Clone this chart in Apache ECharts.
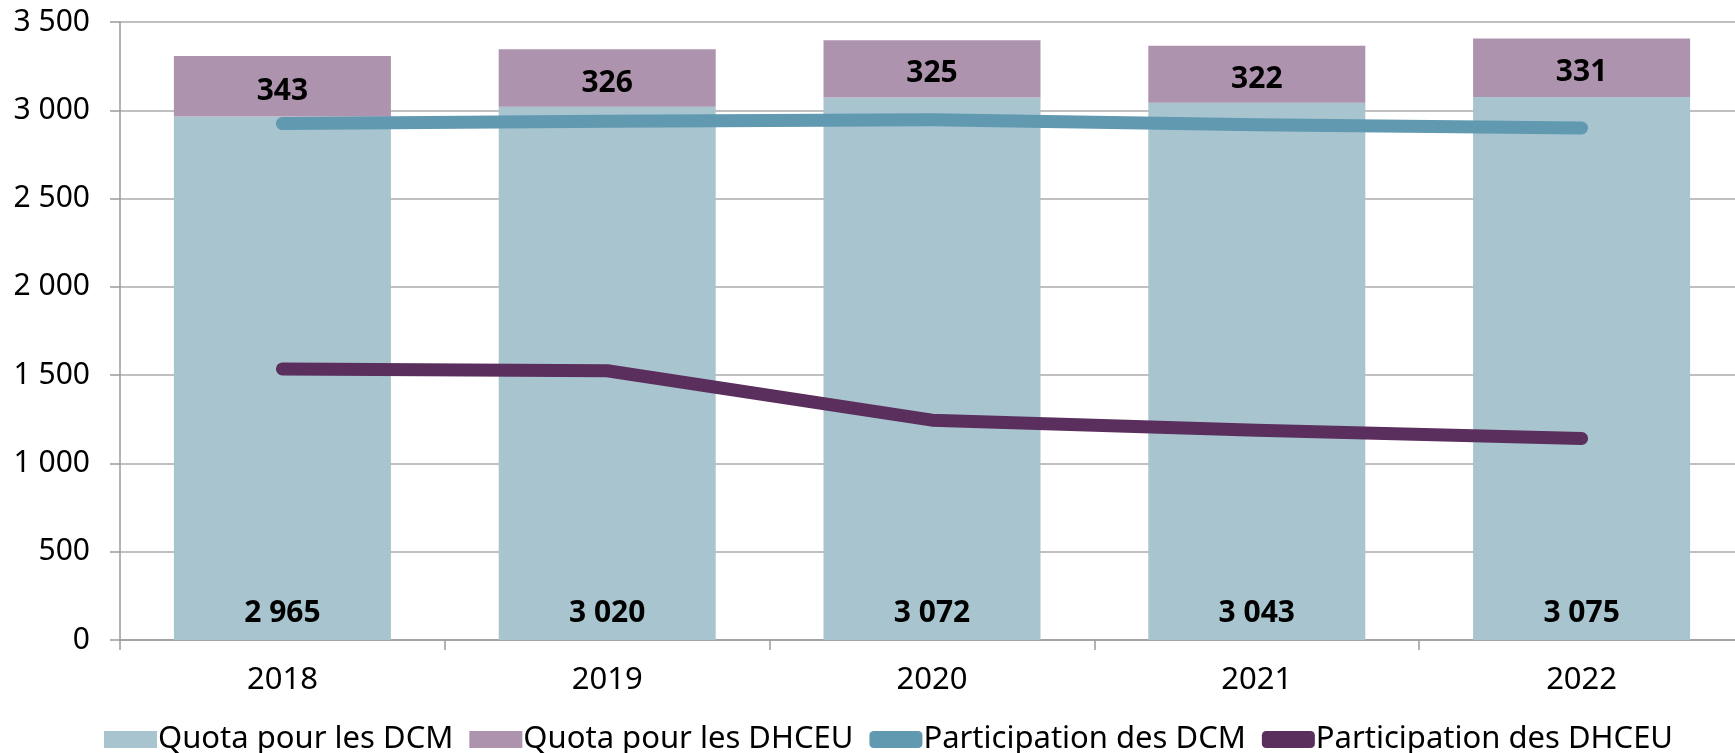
<!DOCTYPE html>
<html>
<head>
<meta charset="utf-8">
<script src="https://cdn.jsdelivr.net/npm/echarts@6/dist/echarts.min.js"></script>
<style>
html,body{margin:0;padding:0;background:#fff;overflow:hidden;width:1735px;height:753px;}
#chart{width:1744px;height:753px;}
</style>
</head>
<body>
<div id="chart"></div>
<script>
const categories = ['2018', '2019', '2020', '2021', '2022'];
const quotaDCM = [2965, 3020, 3072, 3043, 3075];
const quotaDHCEU = [343, 326, 325, 322, 331];
const participationDCM = [2925, 2938, 2946, 2918, 2900];
const participationDHCEU = [1535, 1525, 1245, 1188, 1141];
const seriesNames = ['Quota pour les DCM', 'Quota pour les DHCEU', 'Participation des DCM', 'Participation des DHCEU'];

const FONT = '"Noto Sans", sans-serif';
const fmt = v => {
  const s = String(Math.round(v));
  return s.replace(/\B(?=(\d{3})+(?!\d))/g, ' ');
};

const chart = echarts.init(document.getElementById('chart'));
chart.setOption({
  animation: false,
  textStyle: { fontFamily: FONT },
  grid: { left: 120, right: 0, top: 22, bottom: 113, containLabel: false },
  legend: {
    bottom: -7,
    left: 99,
    itemWidth: 53,
    itemHeight: 17,
    itemGap: 16,
    textStyle: { fontSize: 31, color: '#000', fontFamily: FONT, padding: [0, 0, 0, -4] },
    data: [
      { name: seriesNames[0], icon: 'rect' },
      { name: seriesNames[1], icon: 'rect' },
      { name: seriesNames[2], icon: 'roundRect' },
      { name: seriesNames[3], icon: 'roundRect' }
    ]
  },
  xAxis: {
    type: 'category',
    data: categories,
    boundaryGap: true,
    axisLine: { lineStyle: { color: '#9a9a9a', width: 1.5 } },
    axisTick: { show: true, length: 10, lineStyle: { color: '#9a9a9a', width: 1.5 } },
    axisLabel: { fontSize: 31, color: '#000', margin: 25, fontFamily: FONT }
  },
  yAxis: {
    type: 'value',
    min: 0,
    max: 3500,
    interval: 500,
    axisLine: { show: true, lineStyle: { color: '#9a9a9a', width: 1.5 } },
    axisTick: { show: true, length: 10, lineStyle: { color: '#9a9a9a', width: 1.5 } },
    splitLine: { lineStyle: { color: '#ababab', width: 1.5 } },
    axisLabel: { fontSize: 30, color: '#000', margin: 30, fontFamily: FONT, formatter: fmt }
  },
  series: [
    {
      name: seriesNames[0], type: 'bar', stack: 'q', barWidth: 217,
      itemStyle: { color: '#a7c4cf' },
      label: { show: true, position: 'insideBottom', distance: 12, fontSize: 30, fontWeight: 'bold', color: '#000', fontFamily: FONT, formatter: p => fmt(p.value) },
      data: quotaDCM, z: 2
    },
    {
      name: seriesNames[1], type: 'bar', stack: 'q', barWidth: 217,
      itemStyle: { color: '#ad93ad' },
      label: { show: true, position: 'inside', offset: [0, 5], fontSize: 30, fontWeight: 'bold', color: '#000', fontFamily: FONT, formatter: p => fmt(p.value) },
      data: quotaDHCEU, z: 2
    },
    {
      name: seriesNames[2], type: 'line', symbol: 'none',
      lineStyle: { color: '#6099b0', width: 13, cap: 'round', join: 'round' },
      itemStyle: { color: '#6099b0' },
      data: participationDCM, z: 5
    },
    {
      name: seriesNames[3], type: 'line', symbol: 'none',
      lineStyle: { color: '#5b2f5d', width: 13, cap: 'round', join: 'round' },
      itemStyle: { color: '#5b2f5d' },
      data: participationDHCEU, z: 5
    }
  ]
});
</script>
</body>
</html>
